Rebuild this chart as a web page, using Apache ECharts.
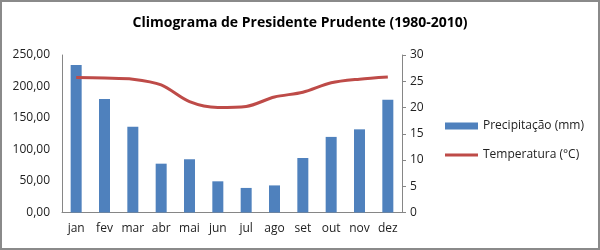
<!DOCTYPE html>
<html><head><meta charset="utf-8">
<script src="https://cdn.jsdelivr.net/npm/echarts@6/dist/echarts.min.js"></script>
<style>html,body{margin:0;padding:0;background:#fff}#c{width:600px;height:250px}</style>
</head><body><div id="c"></div>
<script>
const months = ['jan','fev','mar','abr','mai','jun','jul','ago','set','out','nov','dez'];
const precipitacao = [234, 180, 136, 77.5, 84.5, 49.5, 39, 43, 86.5, 120, 132, 179];
const temperatura = [25.7, 25.6, 25.4, 24.3, 21.1, 20.0, 20.2, 22.0, 22.9, 24.7, 25.4, 25.8];
const titleText = 'Climograma de Presidente Prudente (1980-2010)';
const seriesNames = ['Precipitação (mm)', 'Temperatura (°C)'];

const chart = echarts.init(document.getElementById('c'));
const font = 'Open Sans';
const legText = {fontFamily: font, fontSize: 12, color: '#222'};
chart.setOption({
  animation: false,
  textStyle: {fontFamily: font},
  title: {text: titleText, left: 'center', top: 11,
    textStyle: {fontFamily: font, fontSize: 14, fontWeight: 'bold', color: '#000'}},
  graphic: [{type: 'rect', shape: {x: 1, y: 1, width: 598, height: 248},
    style: {fill: 'none', stroke: '#8a8a8a', lineWidth: 2}, silent: true}],
  legend: [
    {left: 445, top: 120, padding: 0, itemWidth: 33, itemHeight: 7, itemGap: 0,
      textStyle: legText, data: [{name: seriesNames[0], icon: 'rect'}]},
    {left: 445, top: 149, padding: 0, itemWidth: 33, itemHeight: 3, itemGap: 0,
      textStyle: legText, data: [{name: seriesNames[1], icon: 'rect'}]}
  ],
  grid: {left: 62, right: 198, top: 55, bottom: 37.5},
  xAxis: {type: 'category', data: months,
    axisLine: {lineStyle: {color: '#868686'}}, axisTick: {show: false},
    axisLabel: {fontFamily: font, fontSize: 12, color: '#222', margin: 10, interval: 0}},
  yAxis: [
    {type: 'value', min: 0, max: 250, interval: 50,
      axisLine: {show: true, lineStyle: {color: '#868686'}}, axisTick: {show: false},
      splitLine: {show: false},
      axisLabel: {fontFamily: font, fontSize: 12, color: '#222', margin: 12,
        formatter: v => v.toFixed(2).replace('.', ',')}},
    {type: 'value', min: 0, max: 30, interval: 5, position: 'right',
      axisLine: {show: true, lineStyle: {color: '#868686'}},
      axisTick: {show: true, inside: false, length: 4, lineStyle: {color: '#868686'}},
      splitLine: {show: false},
      axisLabel: {fontFamily: font, fontSize: 12, color: '#222', margin: 8}}
  ],
  series: [
    {name: seriesNames[0], type: 'bar', data: precipitacao, yAxisIndex: 0,
      barWidth: 11, itemStyle: {color: '#4f81bd'}},
    {name: seriesNames[1], type: 'line', data: temperatura, yAxisIndex: 1,
      smooth: 0.3, symbol: 'none', lineStyle: {color: '#be4b48', width: 3},
      itemStyle: {color: '#be4b48'}}
  ]
});
</script></body></html>
